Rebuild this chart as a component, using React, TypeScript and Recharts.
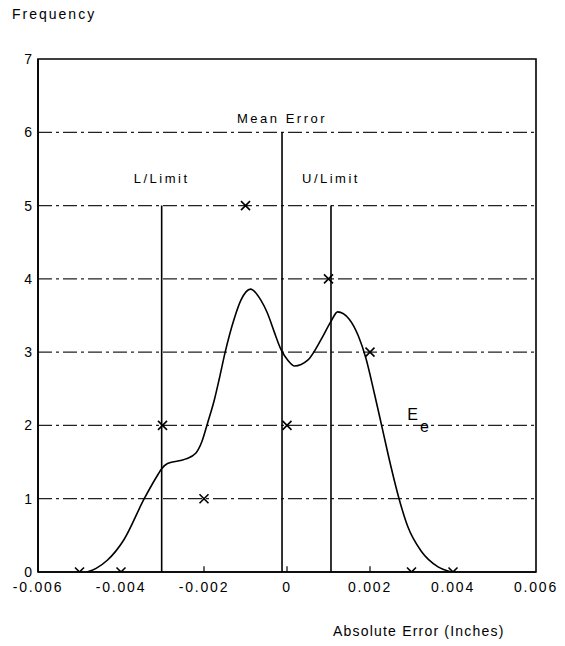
import React from 'react';
import {
  ComposedChart,
  Line,
  Scatter,
  XAxis,
  YAxis,
  ReferenceLine,
  ReferenceArea,
  ReferenceDot,
} from 'recharts';

// axis ticks
const xTicks = [-0.006, -0.004, -0.002, 0, 0.002, 0.004, 0.006];
const yTicks = [0, 1, 2, 3, 4, 5, 6, 7];
const gridValues = [1, 2, 3, 4, 5, 6];
const innerTicks = [-0.002, 0, 0.002];

// sampled frequencies (x marks)
const sampleError = [-0.005, -0.004, -0.003, -0.002, -0.001, 0, 0.001, 0.002, 0.003, 0.004];
const sampleFreq = [0, 0, 2, 1, 5, 2, 4, 3, 0, 0];

// smoothed distribution E_e
const curveError = [
  -0.00482, -0.0046, -0.00433, -0.00393, -0.00344, -0.00312, -0.00302, -0.00288, -0.00245,
  -0.0022, -0.00205, -0.00192, -0.00175, -0.00163, -0.00149, -0.00127, -0.00111, -0.00088,
  -0.00063, -0.00047, -0.00031, -0.00014, 0.00002, 0.00018, 0.0005, 0.00082, 0.00106, 0.00122,
  0.0015, 0.00172, 0.0019, 0.0021, 0.0023, 0.0025, 0.0027, 0.00291, 0.00324, 0.00364, 0.00396,
];
const curveFreq = [
  0, 0.05, 0.16, 0.44, 1.0, 1.32, 1.41, 1.48, 1.54, 1.62, 1.78, 2.02, 2.35, 2.64, 3.0, 3.46,
  3.71, 3.86, 3.71, 3.53, 3.28, 3.03, 2.89, 2.81, 2.89, 3.17, 3.42, 3.55, 3.45, 3.22, 2.92,
  2.45, 1.95, 1.45, 1.0, 0.62, 0.28, 0.07, 0,
];

// reference lines: label, position, height
const refNames = ['L/Limit', 'Mean Error', 'U/Limit'];
const refError = [-0.00302, -0.00012, 0.00106];
const refTop = [5, 6, 5];

const samples = sampleError.map((x, i) => ({ x, y: sampleFreq[i] }));
const curve = curveError.map((x, i) => ({ x, y: curveFreq[i] }));

const FONT = '"Liberation Sans", Arial, Helvetica, sans-serif';

const XMark = (props: any) => {
  const { cx, cy } = props;
  const s = 4.5;
  return (
    <g stroke="#000" strokeWidth={1.6}>
      <line x1={cx - s} y1={cy - s} x2={cx + s} y2={cy + s} />
      <line x1={cx - s} y1={cy + s} x2={cx + s} y2={cy - s} />
    </g>
  );
};

const EeLabel = (props: any) => {
  const { viewBox } = props;
  const x = viewBox.x;
  const y = viewBox.y;
  return (
    <text x={x} y={y - 5} fontFamily={FONT} fontSize={16} fill="#000">
      E
      <tspan dx={2} dy={12}>e</tspan>
    </text>
  );
};

const fmt = (v: number) => (v === 0 ? '0' : v.toFixed(3));

export default function App() {
  return (
    <div style={{ position: 'relative', width: 565, height: 646, background: '#fff', fontFamily: FONT }}>
      <style>{'body{margin:0}'}</style>
      <div
        style={{
          position: 'absolute',
          left: 12,
          top: 7,
          fontSize: 14,
          letterSpacing: 2,
          lineHeight: '14px',
          color: '#000',
        }}
      >
        Frequency
      </div>
      <div
        style={{
          position: 'absolute',
          left: 333,
          top: 624,
          fontSize: 14,
          letterSpacing: 1.2,
          lineHeight: '14px',
          color: '#000',
        }}
      >
        Absolute Error (Inches)
      </div>
      <ComposedChart
        width={565}
        height={646}
        margin={{ top: 59, right: 29, bottom: 44, left: 0 }}
        style={{ position: 'absolute', left: 0, top: 0 }}
      >
        <XAxis
          dataKey="x"
          type="number"
          domain={[-0.006, 0.006]}
          ticks={xTicks}
          tickFormatter={fmt}
          allowDataOverflow
          height={30}
          tickLine={false}
          tickMargin={4}
          axisLine={{ stroke: '#000', strokeWidth: 1.6 }}
          tick={{ fontSize: 14, fill: '#000', fontFamily: FONT, letterSpacing: 1.8 }}
        />
        <YAxis
          type="number"
          domain={[0, 7]}
          ticks={yTicks}
          allowDataOverflow
          width={38}
          tickLine={false}
          tickSize={0}
          tickMargin={6}
          axisLine={{ stroke: '#000', strokeWidth: 1.6 }}
          tick={{ fontSize: 14, fill: '#000', fontFamily: FONT }}
        />
        {gridValues.map((v) => (
          <ReferenceLine
            key={'g' + v}
            y={v}
            stroke="#222"
            strokeWidth={1.2}
            strokeDasharray="14 4 3 4"
          />
        ))}
        <ReferenceArea
          x1={-0.006}
          x2={0.006}
          y1={0}
          y2={7}
          fill="none"
          stroke="#000"
          strokeWidth={1.6}
          fillOpacity={0}
        />
        {innerTicks.map((t) => (
          <ReferenceLine
            key={'t' + t}
            segment={[
              { x: t, y: 0 },
              { x: t, y: 0.08 },
            ]}
            stroke="#000"
            strokeWidth={1.2}
          />
        ))}
        {refNames.map((name, i) => (
          <ReferenceLine
            key={name}
            segment={[
              { x: refError[i], y: 0 },
              { x: refError[i], y: refTop[i] },
            ]}
            stroke="#000"
            strokeWidth={1.6}
            label={{
              value: name,
              position: 'top',
              offset: i === 1 ? 9 : 23,
              fill: '#000',
              fontSize: 13,
              fontFamily: FONT,
              letterSpacing: 2.5,
            }}
          />
        ))}
        <Line
          data={curve}
          dataKey="y"
          type="monotone"
          stroke="#000"
          strokeWidth={1.6}
          dot={false}
          isAnimationActive={false}
        />
        <Scatter data={samples} dataKey="y" shape={<XMark />} isAnimationActive={false} />
        <ReferenceDot
          x={0.0029}
          y={2}
          r={0}
          fill="none"
          stroke="none"
          label={<EeLabel />}
        />
      </ComposedChart>
    </div>
  );
}
